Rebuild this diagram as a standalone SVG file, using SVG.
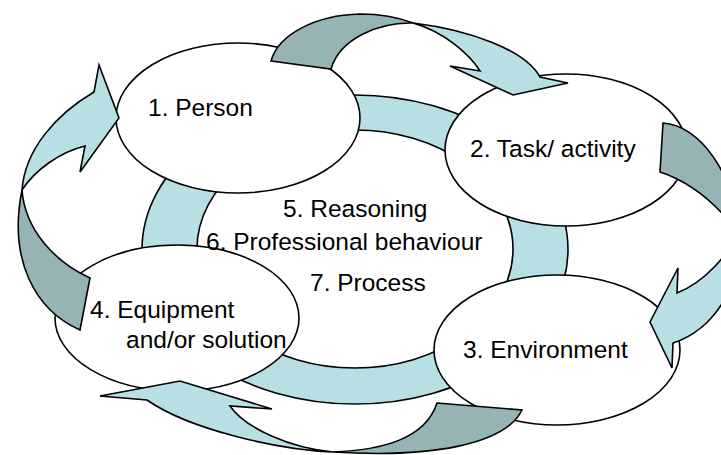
<svg xmlns="http://www.w3.org/2000/svg" width="721" height="455" viewBox="0 0 721 455">
  <style>
    .ring { fill: #b8dfe3; stroke: #000; stroke-width: 1.6; fill-rule: evenodd; }
    .node { fill: #fff; stroke: #000; stroke-width: 1.6; }
    .front { fill: #b8dfe3; stroke: #000; stroke-width: 1.6; stroke-linejoin: miter; }
    .back { fill: #96b3b6; stroke: #000; stroke-width: 1.6; stroke-linejoin: miter; }
    .label { font-family: "Liberation Sans", Arial, sans-serif; font-size: 24.5px; fill: #000; }
  </style>
  <rect width="721" height="455" fill="#fff"/>

  <!-- central ring -->
  <g id="ring">
    <path class="ring" d="M142,249.5 A213,154.5 0 1 0 568,249.5 A213,154.5 0 1 0 142,249.5 Z M197,249 A158,119 0 1 1 513,249 A158,119 0 1 1 197,249 Z"/>
  </g>

  <!-- outer nodes -->
  <g id="node-person">
    <ellipse class="node" cx="238" cy="118" rx="122" ry="75"/>
  </g>
  <g id="node-task">
    <ellipse class="node" cx="566" cy="150" rx="121" ry="76"/>
  </g>
  <g id="node-environment">
    <ellipse class="node" cx="557" cy="350" rx="123" ry="75"/>
  </g>
  <g id="node-equipment">
    <ellipse class="node" cx="177" cy="318" rx="122" ry="73"/>
  </g>

  <!-- curved arrows between the nodes -->
  <g id="connectors">
    <!-- person to task -->
    <path class="back" d="M271,61 L331,69 C340,38 380,22 413,23 C400,18 385,14 360,14 C315,15 278,35 271,61 Z"/>
    <path class="front" d="M413,23 C470,30 525,50 540,77 L568,83 L513,95 L450,66 L480,71 C470,55 445,32 413,23 Z"/>
    <!-- task to environment -->
    <path class="back" d="M663,123 C700,125 735,175 738,232 C725,215 700,185 660,172 Z"/>
    <path class="front" d="M738,232 C745,280 715,330 673,343 L672,368 L650,322 L678,268 L677,293 C705,282 728,255 738,232 Z"/>
    <!-- environment to equipment -->
    <path class="back" d="M437,403 L522,410 C505,445 430,458 333,452 C380,450 425,440 437,403 Z"/>
    <path class="front" d="M333,452 C280,450 190,430 147,400 L100,396 L180,381 L272,409 L230,406 C245,428 290,448 333,452 Z"/>
    <!-- equipment to person -->
    <path class="back" d="M90,278 L80,330 C35,310 8,260 22,190 C25,230 55,262 90,278 Z"/>
    <path class="front" d="M22,190 C25,150 55,115 94,92 L99,65 L119,118 L80,172 L85,146 C60,152 35,170 22,190 Z"/>
  </g>

  <!-- labels -->
  <g id="labels">
    <text class="label" x="148" y="116">1. Person</text>
    <text class="label" x="470" y="157">2. Task/ activity</text>
    <text class="label" x="463" y="358">3. Environment</text>
    <text class="label" x="90" y="318">4. Equipment</text>
    <text class="label" x="126" y="348">and/or solution</text>
    <text class="label" x="283" y="217">5. Reasoning</text>
    <text class="label" x="206" y="250">6. Professional behaviour</text>
    <text class="label" x="310" y="291">7. Process</text>
  </g>
</svg>
